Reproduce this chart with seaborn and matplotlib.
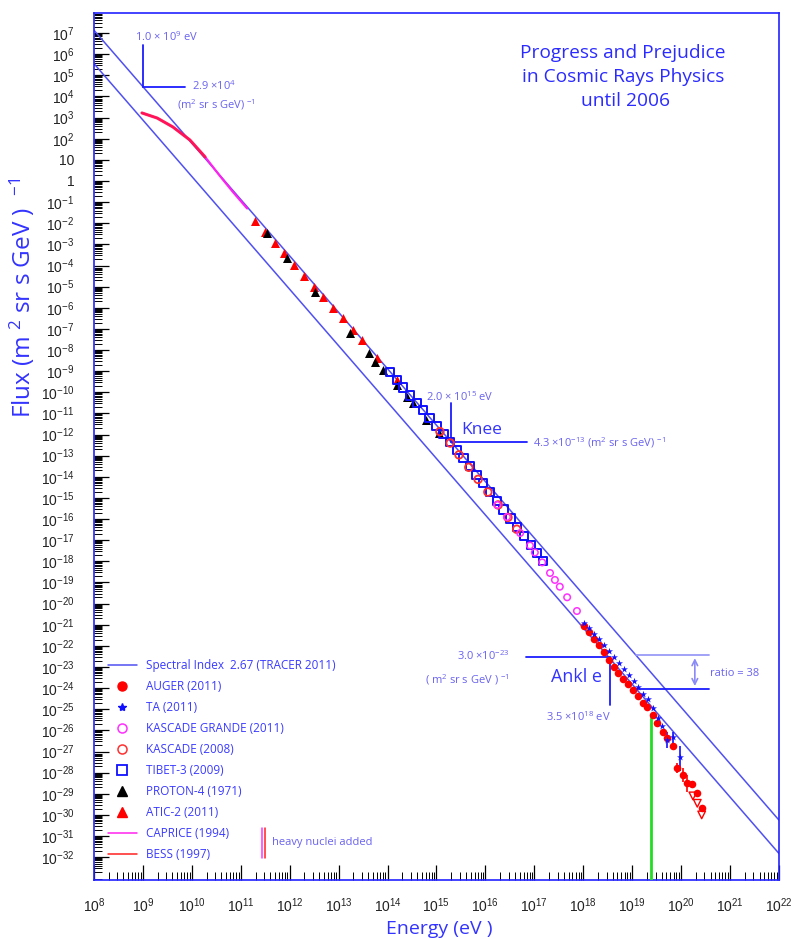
import numpy as np
import matplotlib
matplotlib.use("Agg")
import matplotlib.pyplot as plt
from matplotlib.lines import Line2D
from matplotlib.ticker import LogLocator, FixedLocator, FuncFormatter, NullFormatter
import seaborn as sns

#------------------data: log10(E / eV) and log10(flux / (m2 sr s GeV)^-1)------------
caprice_logE = [8.98, 9.29, 9.61, 9.96, 10.27, 10.58, 10.84, 11.13]
caprice_logF = [3.22, 2.98, 2.56, 1.94, 1.14, 0.22, -0.52, -1.30]
bess_logE = [8.98, 9.29, 9.61, 9.96, 10.27]
bess_logF = [3.22, 2.98, 2.56, 1.94, 1.14]

atic_logE = [11.29, 11.49, 11.70, 11.88, 12.09, 12.29, 12.50, 12.68, 12.88, 13.09,
             13.29, 13.48, 13.78, 14.19]
atic_logF = [-1.90, -2.40, -2.93, -3.41, -3.97, -4.49, -5.01, -5.49, -6.01, -6.48,
             -7.05, -7.52, -8.37, -9.42]

proton_logE = [11.54, 11.94, 12.52, 13.23, 13.62, 13.74, 13.91, 14.19, 14.40, 14.52,
               14.79, 15.05]
proton_logF = [-2.46, -3.64, -5.25, -7.19, -8.14, -8.56, -8.94, -9.65, -10.22, -10.50,
               -11.31, -11.92]

tibet_logE = [14.05, 14.19, 14.32, 14.46, 14.60, 14.72, 14.86, 15.00, 15.14, 15.28,
              15.42, 15.55, 15.68, 15.82, 15.95, 16.09, 16.23, 16.37, 16.51, 16.65,
              16.79, 16.93, 17.06, 17.18]
tibet_logF = [-9.05, -9.42, -9.77, -10.15, -10.52, -10.85, -11.22, -11.60, -11.97, -12.35,
              -12.74, -13.12, -13.50, -13.92, -14.30, -14.72, -15.13, -15.55, -15.97, -16.39,
              -16.80, -17.22, -17.60, -17.97]

kascade_logE = [15.07, 15.28, 15.46, 15.66, 15.85, 16.05, 16.26, 16.46, 16.64]
kascade_logF = [-11.86, -12.40, -12.96, -13.55, -14.12, -14.72, -15.33, -15.92, -16.48]

kgrande_logE = [16.24, 16.44, 16.71, 16.91, 17.01, 17.16, 17.32, 17.42, 17.52, 17.67, 17.87]
kgrande_logF = [-15.33, -15.90, -16.66, -17.25, -17.58, -18.05, -18.55, -18.88, -19.20,
                -19.70, -20.35]

auger_logE = [18.01, 18.12, 18.22, 18.32, 18.42, 18.52, 18.63, 18.71, 18.81, 18.91,
              19.02, 19.12, 19.22, 19.30, 19.42, 19.51, 19.63, 19.71, 19.83,
              20.22, 20.32, 20.42]
auger_logF = [-21.06, -21.34, -21.67, -21.96, -22.29, -22.67, -23.00, -23.28, -23.57, -23.80,
              -24.09, -24.37, -24.70, -24.89, -25.27, -25.65, -26.07, -26.36, -26.74,
              -28.54, -28.96, -29.67]
auger_bar_logE = [19.91, 20.04, 20.12]
auger_bar_logF = [-27.78, -28.11, -28.49]
auger_bar_lo = [0.24, 0.33, 0.42]
auger_bar_hi = [0.24, 0.33, 0.38]
auger_lim_logE = [20.24, 20.33, 20.42]
auger_lim_logF = [-29.10, -29.45, -30.00]

ta_logE = [18.01, 18.12, 18.22, 18.32, 18.42, 18.52, 18.63, 18.73, 18.83, 18.93,
           19.04, 19.12, 19.22, 19.32, 19.42, 19.53, 19.61]
ta_logF = [-20.92, -21.16, -21.44, -21.67, -21.96, -22.24, -22.53, -22.81, -23.09, -23.38,
           -23.66, -23.94, -24.28, -24.51, -24.94, -25.41, -25.79]
ta_bar_logE = [19.71, 19.83, 19.98]
ta_bar_logF = [-26.45, -26.31, -27.26]
ta_bar_lo = [0.38, 0.28, 0.66]
ta_bar_hi = [0.38, 0.24, 0.52]

# spectral index line: anchored at 1.0e9 eV / 2.9e4, second line lower by the ratio
spectral_index = 2.67
anchor_E = 1.0e9
anchor_F = 2.9e4
ratio = 38
spec_E = [1e8, 1e22]

knee_E, knee_F = 2.0e15, 4.3e-13
ankle_E, ankle_F = 3.5e18, 3.0e-23
ratio_E = 10**19.08
gzk_E = 10**19.38

xtick_exp = list(range(8, 23))
ytick_exp = list(range(-32, 8))

#------------------colours----------------------------
TXT = "#3333ff"
NOTE = "#6a62f0"
LINE = "#1c1cff"
SPEC = "#5050f2"


def pw(v):
    return np.power(10.0, np.asarray(v, dtype=float))


def ylab(v, pos):
    n = int(round(np.log10(v)))
    if n == 0:
        return "1"
    if n == 1:
        return "10"
    return r"$\mathregular{10^{%d}}$" % n


def xlab(v, pos):
    n = int(round(np.log10(v)))
    return r"$\mathregular{10^{%d}}$" % n


def main():
    sns.set_style("white")
    plt.rcParams['font.family'] = ['Open Sans', 'DejaVu Sans']

    fig = plt.figure(figsize=(7.95, 9.39), dpi=100)
    ax = fig.add_axes([94 / 795, 1 - 880 / 939, 685 / 795, 867 / 939])
    ax.set_xscale('log')
    ax.set_yscale('log')

    # spectral index lines
    sE = np.array(spec_E)
    upper = anchor_F * (sE / anchor_E) ** (-spectral_index)
    sns.lineplot(x=sE, y=upper, color=SPEC, lw=1.1, estimator=None, ax=ax)
    sns.lineplot(x=sE, y=upper / ratio, color=SPEC, lw=1.1, estimator=None, ax=ax)

    # low energy curves
    sns.lineplot(x=pw(caprice_logE), y=pw(caprice_logF), color="#ff22ee", lw=1.6,
                 estimator=None, ax=ax)
    sns.lineplot(x=pw(bess_logE), y=pw(bess_logF), color="#ff1040", lw=2.2,
                 alpha=0.85, estimator=None, ax=ax)

    # data sets
    sns.scatterplot(x=pw(atic_logE), y=pw(atic_logF), marker='^', s=42, color='red',
                    linewidth=0, ax=ax, zorder=4)
    sns.scatterplot(x=pw(proton_logE), y=pw(proton_logF), marker='^', s=42, color='black',
                    linewidth=0, ax=ax, zorder=4)
    sns.scatterplot(x=pw(tibet_logE), y=pw(tibet_logF), marker='s', s=36, color='#1010ff',
                    facecolor='none', edgecolor='#1010ff', linewidth=1.4, ax=ax, zorder=5)
    sns.scatterplot(x=pw(kascade_logE), y=pw(kascade_logF), marker='o', s=30, color='#ff3030',
                    facecolor='none', edgecolor='#ff3030', linewidth=1.3, ax=ax, zorder=6)
    sns.scatterplot(x=pw(kgrande_logE), y=pw(kgrande_logF), marker='o', s=22, color='#ff30ff',
                    facecolor='none', edgecolor='#ff30ff', linewidth=1.1, ax=ax, zorder=6)

    ax.vlines(pw(auger_bar_logE), pw(np.array(auger_bar_logF) - np.array(auger_bar_lo)),
              pw(np.array(auger_bar_logF) + np.array(auger_bar_hi)), color='red', lw=1.2, zorder=6)
    ax.vlines(pw(ta_bar_logE), pw(np.array(ta_bar_logF) - np.array(ta_bar_lo)),
              pw(np.array(ta_bar_logF) + np.array(ta_bar_hi)), color='#1010ff', lw=1.2, zorder=6)
    sns.scatterplot(x=pw(auger_logE + auger_bar_logE), y=pw(auger_logF + auger_bar_logF),
                    marker='o', s=30, color='red', linewidth=0, ax=ax, zorder=7)
    sns.scatterplot(x=pw(auger_lim_logE), y=pw(auger_lim_logF), marker='v', s=30, color='red',
                    facecolor='none', edgecolor='red', linewidth=1.0, ax=ax, zorder=7)
    sns.scatterplot(x=pw(ta_logE + ta_bar_logE), y=pw(ta_logF + ta_bar_logF), marker='*',
                    s=28, color='#1010ff', linewidth=0, ax=ax, zorder=8)

    # green marker line
    gzk_top = pw(auger_logF)[np.argmin(np.abs(np.array(auger_logE) - np.log10(gzk_E)))]
    ax.plot([gzk_E, gzk_E], [1e-40, gzk_top], color="#22dd22", lw=2, zorder=3)

    # 1e9 annotation
    ax.plot([anchor_E, anchor_E], [10**6.45, anchor_F], color=LINE, lw=1.3)
    ax.plot([anchor_E, 10**9.86], [anchor_F, anchor_F], color=LINE, lw=1.3)
    ax.text(10**8.84, 10**6.8, r"1.0 × 10$\mathregular{^9}$ eV", color=NOTE, fontsize=8,
            va='center', ha='left')
    ax.text(10**10.0, 10**4.5, r"2.9 ×10$\mathregular{^4}$", color=NOTE, fontsize=8,
            va='center', ha='left')
    ax.text(10**9.7, 10**3.62, r"(m$\mathregular{^2}$ sr s GeV) $\mathregular{^{-1}}$",
            color=NOTE, fontsize=8, va='center', ha='left')

    # knee
    ax.plot([knee_E, knee_E], [10**-10.5, knee_F], color=LINE, lw=1.3)
    ax.plot([knee_E, 10**16.85], [knee_F, knee_F], color=LINE, lw=1.3)
    ax.text(10**14.78, 10**-10.22, r"2.0 × 10$\mathregular{^{15}}$ eV", color=NOTE, fontsize=8,
            va='center', ha='left')
    ax.text(10**15.5, 10**-11.78, "Knee", color=TXT, fontsize=12.5, va='center', ha='left')
    ax.text(10**16.97, knee_F, r"4.3 ×10$\mathregular{^{-13}}$ (m$\mathregular{^2}$ sr s GeV) $\mathregular{^{-1}}$",
            color=NOTE, fontsize=8, va='center', ha='left')

    # ankle
    ax.plot([10**16.83, ankle_E], [ankle_F, ankle_F], color=LINE, lw=1.3)
    ax.plot([ankle_E, ankle_E], [ankle_F, 10**-24.8], color=LINE, lw=1.3)
    ax.text(10**17.33, 10**-23.45, "Ankl e", color=TXT, fontsize=13, va='center', ha='left')
    ax.text(10**16.5, 10**-22.5, r"3.0 ×10$\mathregular{^{-23}}$", color=NOTE, fontsize=8,
            va='center', ha='right')
    ax.text(10**16.5, 10**-23.6, r"( m$\mathregular{^2}$ sr s GeV ) $\mathregular{^{-1}}$",
            color=NOTE, fontsize=8, va='center', ha='right')
    ax.text(10**18.56, 10**-25.35, r"3.5 ×10$\mathregular{^{18}}$ eV", color=NOTE, fontsize=8,
            va='center', ha='right')

    # ratio between the two lines
    r_up = anchor_F * (ratio_E / anchor_E) ** (-spectral_index)
    ax.plot([ratio_E, 10**20.57], [r_up, r_up], color="#9a9af8", lw=1.3)
    ax.plot([ratio_E, 10**20.57], [r_up / ratio, r_up / ratio], color=LINE, lw=1.3)
    ax.annotate("", xy=(10**20.28, r_up / ratio), xytext=(10**20.28, r_up),
                arrowprops=dict(arrowstyle="<->", color="#8a8af8", lw=1.2))
    ax.text(10**20.58, 10**-23.3, "ratio = 38", color=NOTE, fontsize=8, va='center', ha='left')

    # heavy nuclei note
    ax.plot([10**11.43, 10**11.43], [10**-30.6, 10**-32.05], color="#ff30ff", lw=1.1)
    ax.plot([10**11.50, 10**11.50], [10**-30.6, 10**-32.05], color="#ff2020", lw=1.1)
    ax.text(10**11.64, 10**-31.3, "heavy nuclei added", color=NOTE, fontsize=8,
            va='center', ha='left')

    # title
    ax.text(0.772, 0.926, "Progress and Prejudice\nin Cosmic Rays Physics\n until 2006",
            transform=ax.transAxes, ha='center', va='center', color="#2b2bff",
            fontsize=13.8, linespacing=1.45)

    # legend
    handles = [
        Line2D([], [], color=SPEC, lw=1.1),
        Line2D([], [], marker='o', ls='', color='red', ms=6.5),
        Line2D([], [], marker='*', ls='', color='#1010ff', ms=6),
        Line2D([], [], marker='o', ls='', mfc='none', mec='#ff30ff', ms=6.5, mew=1.1),
        Line2D([], [], marker='o', ls='', mfc='none', mec='#ff3030', ms=6.5, mew=1.1),
        Line2D([], [], marker='s', ls='', mfc='none', mec='#1010ff', ms=7.5, mew=1.3),
        Line2D([], [], marker='^', ls='', color='black', ms=7),
        Line2D([], [], marker='^', ls='', color='red', ms=7),
        Line2D([], [], color='#ff22ee', lw=1.1),
        Line2D([], [], color='#ff2020', lw=1.1),
    ]
    labels = ["Spectral Index  2.67 (TRACER 2011)", "AUGER (2011)", "TA (2011)",
              "KASCADE GRANDE (2011)", "KASCADE (2008)", "TIBET-3 (2009)",
              "PROTON-4 (1971)", "ATIC-2 (2011)", "CAPRICE (1994)", "BESS (1997)"]
    ax.legend(handles, labels, loc='upper left', bbox_to_anchor=(0.020, 0.255),
              frameon=False, fontsize=8.5, labelcolor="#3a3aff", handlelength=2.5,
              handletextpad=0.75, labelspacing=0.68, borderpad=0, borderaxespad=0)

    # axes
    ax.set_xlim(1e8, 1e22)
    ax.set_ylim(10**-33.08, 10**7.95)
    ax.xaxis.set_major_locator(FixedLocator(pw(xtick_exp)))
    ax.yaxis.set_major_locator(FixedLocator(pw(ytick_exp)))
    ax.xaxis.set_minor_locator(LogLocator(base=10, subs=np.arange(2, 10) * 1.0, numticks=1000))
    ax.yaxis.set_minor_locator(LogLocator(base=10, subs=np.arange(2, 10) * 1.0, numticks=1000))
    ax.xaxis.set_minor_formatter(NullFormatter())
    ax.yaxis.set_minor_formatter(NullFormatter())
    ax.xaxis.set_major_formatter(FuncFormatter(xlab))
    ax.yaxis.set_major_formatter(FuncFormatter(ylab))
    ax.tick_params(which='both', direction='in', color='black', left=True, bottom=True,
                   right=False, top=False, labelfontfamily='Liberation Sans')
    ax.tick_params(which='major', length=11, width=0.9, labelsize=10, labelcolor='#222222')
    ax.tick_params(axis='y', which='major', pad=14)
    ax.tick_params(axis='x', which='major', pad=12)
    ax.tick_params(which='minor', length=5.5, width=0.7)
    for s in ax.spines.values():
        s.set_color("#2222ff")
        s.set_linewidth(1.2)

    ax.set_xlabel("Energy (eV )", color=TXT, fontsize=14, va='center')
    ax.xaxis.set_label_coords(0.504, -0.056)
    ax.set_ylabel(r"Flux (m $\mathregular{^2}$ sr s GeV )  $\mathregular{^{-1}}$", color=TXT,
                  fontsize=17.5, va='center')
    ax.yaxis.set_label_coords(-0.104, 0.672)

    fig.savefig("out.png", dpi=100)


if __name__ == '__main__':
    main()
